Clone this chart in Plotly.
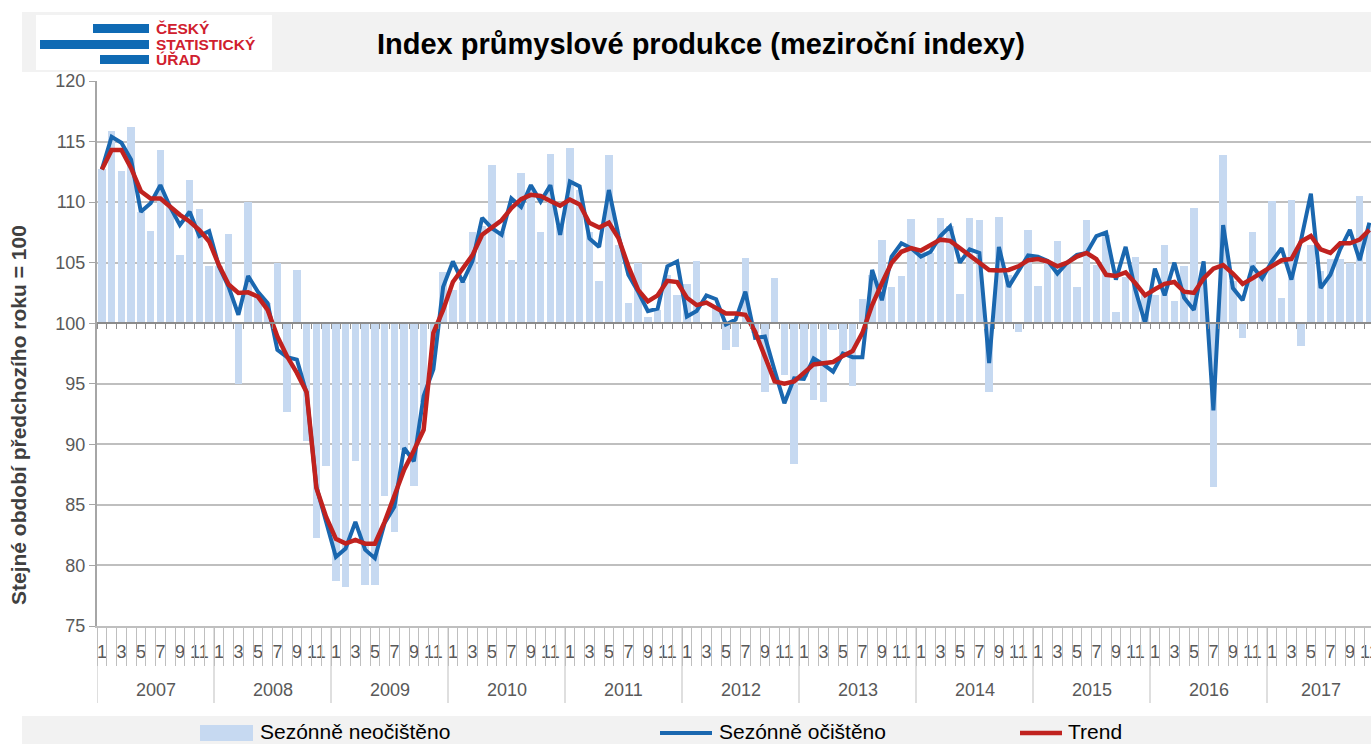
import plotly.graph_objects as go

# ---------------- data (monthly, Jan 2007 - Nov 2017) ----------------
years = [2007, 2008, 2009, 2010, 2011, 2012, 2013, 2014, 2015, 2016, 2017]
months_in_year = [12, 12, 12, 12, 12, 12, 12, 12, 12, 12, 11]

unadjusted = [
    112.7, 115.9, 112.6, 116.2, 109.2, 107.6, 114.3, 109.6, 105.6, 111.8, 109.4, 104.7,
    104.7, 107.4, 95.0, 110.05, 102.4, 101.7, 105.0, 92.7, 104.4, 90.3, 82.3, 88.2,
    78.7, 78.2, 88.6, 78.4, 78.4, 85.7, 82.8, 89.5, 86.6, 93.5, 97.5, 104.2,
    102.75, 103.4, 107.5, 108.0, 113.05, 107.5, 105.2, 112.4, 111.0, 107.5, 114.0, 108.0,
    114.5, 111.0, 107.5, 103.5, 113.9, 106.5, 101.65, 105.0, 100.5, 101.1, 104.0, 102.3,
    103.25, 105.15, 100.1, 101.3, 97.8, 98.0, 105.4, 99.2, 94.35, 103.7, 95.7, 88.4,
    95.6, 93.7, 93.5, 99.4, 97.4, 94.8, 102.0, 104.0, 106.9, 103.0, 103.9, 108.6,
    106.0, 105.8, 108.7, 108.0, 102.4, 108.7, 108.5, 94.3, 108.8, 104.0, 99.3, 107.7,
    103.05, 105.2, 106.8, 104.9, 103.0, 108.5, 104.8, 107.3, 100.9, 103.8, 105.45, 102.4,
    102.3, 106.5, 101.85, 104.7, 109.5, 103.5, 86.5, 113.85, 103.5, 98.8, 107.5, 104.2,
    110.1, 102.1, 110.15, 98.15, 106.5, 104.3, 105.3, 105.3, 104.95, 110.5, 108.0,
]

adjusted = [
    112.7, 115.4, 114.9, 113.5, 109.2, 109.9, 111.4, 109.6, 108.1, 109.2, 107.2, 107.6,
    104.7, 103.0, 100.7, 103.9, 102.6, 101.65, 97.8, 97.2, 97.0, 94.2, 86.5, 83.7,
    80.7, 81.4, 83.6, 81.3, 80.6, 83.5, 84.85, 89.7, 88.6, 94.0, 96.2, 103.0,
    105.1, 103.4, 105.1, 108.7, 107.85, 107.3, 110.3, 109.6, 111.4, 110.05, 111.4, 107.3,
    111.7, 111.3, 107.0, 106.3, 111.0, 107.2, 104.0, 102.6, 101.0, 101.2, 104.7, 105.1,
    100.55, 101.0, 102.3, 101.98, 99.9, 100.3, 102.6, 98.8, 98.9, 96.1, 93.4, 95.45,
    95.4, 97.1, 96.6, 96.0, 97.5, 97.2, 97.2, 104.4, 101.9, 105.5, 106.6, 106.2,
    105.5, 105.9, 107.2, 108.0, 105.0, 106.1, 105.8, 96.7, 106.3, 103.0, 104.3, 105.6,
    105.5, 105.15, 104.1, 105.0, 105.65, 105.8, 107.2, 107.5, 103.6, 106.3, 102.75, 100.0,
    104.5, 102.3, 105.0, 102.1, 101.1, 105.1, 92.8, 108.1, 102.9, 101.9, 104.7, 103.7,
    105.1, 106.2, 103.6, 106.9, 110.7, 102.9, 104.0, 106.1, 107.7, 105.2, 108.3,
]

trend = [
    112.7, 114.3, 114.3, 112.8, 110.9, 110.3, 110.3, 109.6, 108.95, 108.4, 107.7, 106.75,
    104.8, 103.2, 102.5, 102.55, 102.2, 101.1, 98.9, 97.25, 95.9, 94.3, 86.4, 84.0,
    82.2, 81.8, 82.1, 81.8, 81.8, 83.6, 85.8, 87.9, 89.5, 91.2, 99.2, 101.1,
    103.4, 104.5, 105.6, 107.3, 107.85, 108.5, 109.5, 110.25, 110.6, 110.5, 110.1, 109.7,
    110.2, 109.8, 108.3, 107.9, 108.3, 107.0, 104.7, 102.75, 101.8, 102.3, 103.5, 103.4,
    102.1, 101.5, 101.7, 101.2, 100.8, 100.8, 100.7, 99.3, 97.25, 95.2, 95.0, 95.2,
    95.9, 96.6, 96.7, 96.8, 97.3, 97.7, 99.2, 101.5, 103.3, 105.0, 105.9, 106.2,
    106.0, 106.5, 106.9, 106.8, 106.2, 105.6, 105.0, 104.4, 104.35, 104.4, 104.7, 105.2,
    105.3, 105.1, 104.7, 105.0, 105.5, 105.8, 105.3, 104.0, 103.9, 104.2, 103.3, 102.3,
    102.8, 103.25, 103.4, 102.6, 102.5, 103.7, 104.5, 104.8, 104.1, 103.25, 103.7, 104.2,
    104.8, 105.2, 105.3, 106.75, 107.2, 106.1, 105.8, 106.6, 106.6, 106.9, 107.7,
]

y_ticks = [75, 80, 85, 90, 95, 100, 105, 110, 115, 120]
baseline = 100

title_text = "Index průmyslové produkce (meziroční indexy)"
y_title = "Stejné období předchozího roku = 100"
legend_names = ["Sezónně neočištěno", "Sezónně očištěno", "Trend"]
logo_lines = ["ČESKÝ", "STATISTICKÝ", "ÚŘAD"]

# ---------------- styling ----------------
C_BAR = "#C6D9F1"
C_SA = "#1A67AF"
C_TREND = "#C0221F"
C_GRID = "#BFBFBF"
C_AXIS = "#A6A6A6"
C_TEXT = "#595959"
FONT = "Liberation Sans, Arial, sans-serif"

W, H = 1371, 744
ML, MR, MT, MB = 97, 0, 81, 118
PW, PH = W - ML - MR, H - MT - MB
MONTH_PX = 9.75


def px(xp):
    return (xp - ML) / PW


def py(yp):
    return (H - MB - yp) / PH


n = len(unadjusted)
assert n == len(adjusted) == len(trend) == sum(months_in_year)
idx = list(range(n))
month_no = []
for cnt in months_in_year:
    month_no += list(range(1, cnt + 1))

x_range = [-0.5, -0.5 + PW / MONTH_PX]

fig = go.Figure()
fig.add_trace(go.Bar(
    x=idx, y=[v - baseline for v in unadjusted], base=baseline, width=0.75,
    marker=dict(color=C_BAR, line=dict(width=0)), name=legend_names[0],
    showlegend=False,
))
fig.add_trace(go.Scatter(
    x=idx, y=adjusted, mode="lines", line=dict(color=C_SA, width=4),
    name=legend_names[1], showlegend=False,
))
fig.add_trace(go.Scatter(
    x=idx, y=trend, mode="lines", line=dict(color=C_TREND, width=4.5),
    name=legend_names[2], showlegend=False,
))
# helper (empty) traces so that overlay axes are drawn
fig.add_trace(go.Scatter(x=[], y=[], xaxis="x2", showlegend=False, hoverinfo="skip"))
fig.add_trace(go.Scatter(x=[], y=[], xaxis="x3", showlegend=False, hoverinfo="skip"))

boundaries = [i - 0.5 for i in range(n + 1)]
odd_idx = [i for i in idx if month_no[i] % 2 == 1]

fig.update_layout(
    width=W, height=H,
    margin=dict(l=ML, r=MR, t=MT, b=MB, pad=0, autoexpand=False),
    paper_bgcolor="white", plot_bgcolor="white",
    font=dict(family=FONT, color=C_TEXT, size=18),
    bargap=0, barmode="overlay",
    xaxis=dict(
        range=x_range, tickmode="array", tickvals=odd_idx,
        ticktext=[str(month_no[i]) for i in odd_idx], ticks="", tickangle=0,
        ticklabelstandoff=9, ticklabeloverflow="allow", automargin=False,
        tickfont=dict(size=18, color=C_TEXT),
        showgrid=False, zeroline=False, showline=True, linecolor=C_GRID, linewidth=1.5,
    ),
    xaxis2=dict(
        overlaying="x", matches="x", anchor="free", automargin=False,
        position=(baseline - y_ticks[0]) / (y_ticks[-1] - y_ticks[0]),
        tickmode="array", tickvals=boundaries, ticks="outside", ticklen=5,
        tickcolor="#8C8C8C", tickwidth=1, showticklabels=False, showgrid=False,
        zeroline=False, showline=True, linecolor="#8C8C8C", linewidth=1.5, side="bottom",
    ),
    xaxis3=dict(
        overlaying="x", matches="x", anchor="y", side="bottom", automargin=False,
        tickmode="array", tickvals=boundaries, ticks="outside", ticklen=39,
        tickcolor=C_GRID, tickwidth=1, showticklabels=False, showgrid=False,
        zeroline=False, showline=False,
    ),
    yaxis=dict(
        range=[y_ticks[0], y_ticks[-1]], tickmode="array", tickvals=y_ticks,
        ticks="outside", ticklen=6, tickcolor=C_AXIS, showline=True, automargin=False,
        linecolor=C_AXIS, linewidth=2, showgrid=True, gridcolor=C_GRID,
        gridwidth=1.5, zeroline=False, tickfont=dict(size=18, color=C_TEXT),
    ),
)

shapes = []
annotations = []

# title band & legend band
shapes.append(dict(type="rect", xref="paper", yref="paper", x0=px(22), x1=1,
                   y0=py(72), y1=py(12), fillcolor="#F2F2F2", line=dict(width=0), layer="below"))
shapes.append(dict(type="rect", xref="paper", yref="paper", x0=px(22), x1=1,
                   y0=py(744), y1=py(716), fillcolor="#F2F2F2", line=dict(width=0), layer="below"))
# logo
shapes.append(dict(type="rect", xref="paper", yref="paper", x0=px(36), x1=px(272),
                   y0=py(70), y1=py(15), fillcolor="white", line=dict(width=0)))
for (x0, x1, y0, y1) in [(93, 149, 24, 33), (40, 149, 40, 49), (100, 149, 55, 64)]:
    shapes.append(dict(type="rect", xref="paper", yref="paper", x0=px(x0), x1=px(x1),
                       y0=py(y1), y1=py(y0), fillcolor="#0F6AB4", line=dict(width=0)))
for k, (txt, yc) in enumerate(zip(logo_lines, [28.5, 44, 59.5])):
    annotations.append(dict(text="<b>%s</b>" % txt, xref="paper", yref="paper",
                            x=px(154), y=py(yc), xanchor="left", yanchor="middle",
                            showarrow=False, font=dict(size=15.5, color="#D0202E", family=FONT)))

# title
annotations.append(dict(text="<b>%s</b>" % title_text, xref="paper", yref="paper",
                        x=px(701), y=py(44), xanchor="center", yanchor="middle",
                        showarrow=False, font=dict(size=29, color="black", family=FONT)))
# y title
annotations.append(dict(text="<b>%s</b>" % y_title, xref="paper", yref="paper",
                        x=px(19), y=py(415), xanchor="center", yanchor="middle",
                        textangle=-90, showarrow=False,
                        font=dict(size=21, color="#404040", family=FONT)))

# year separators and year labels
start = 0
for yr, cnt in zip(years, months_in_year):
    shapes.append(dict(type="line", xref="x", yref="paper", x0=start - 0.5, x1=start - 0.5,
                       y0=0, y1=py(703), line=dict(color=C_GRID, width=1)))
    annotations.append(dict(text=str(yr), xref="x", yref="paper",
                            x=start + (cnt - 1) / 2, y=py(690), xanchor="center",
                            yanchor="middle", showarrow=False,
                            font=dict(size=18, color=C_TEXT, family=FONT)))
    start += cnt

# custom legend
shapes.append(dict(type="rect", xref="paper", yref="paper", x0=px(200), x1=px(253),
                   y0=py(741), y1=py(725), fillcolor=C_BAR, line=dict(width=0)))
shapes.append(dict(type="line", xref="paper", yref="paper", x0=px(660), x1=px(712),
                   y0=py(733), y1=py(733), line=dict(color=C_SA, width=4)))
shapes.append(dict(type="line", xref="paper", yref="paper", x0=px(1020), x1=px(1062),
                   y0=py(733), y1=py(733), line=dict(color=C_TREND, width=4.5)))
for name, xl in zip(legend_names, [258, 717, 1066]):
    annotations.append(dict(text=name, xref="paper", yref="paper", x=px(xl), y=py(731.5),
                            xanchor="left", yanchor="middle", showarrow=False,
                            font=dict(size=21, color="black", family=FONT)))

fig.update_layout(shapes=shapes, annotations=annotations)
fig.write_html(
    "out.html",
    config={"displayModeBar": False},
    post_script="document.body.style.margin='0';document.body.style.overflow='hidden';",
)
